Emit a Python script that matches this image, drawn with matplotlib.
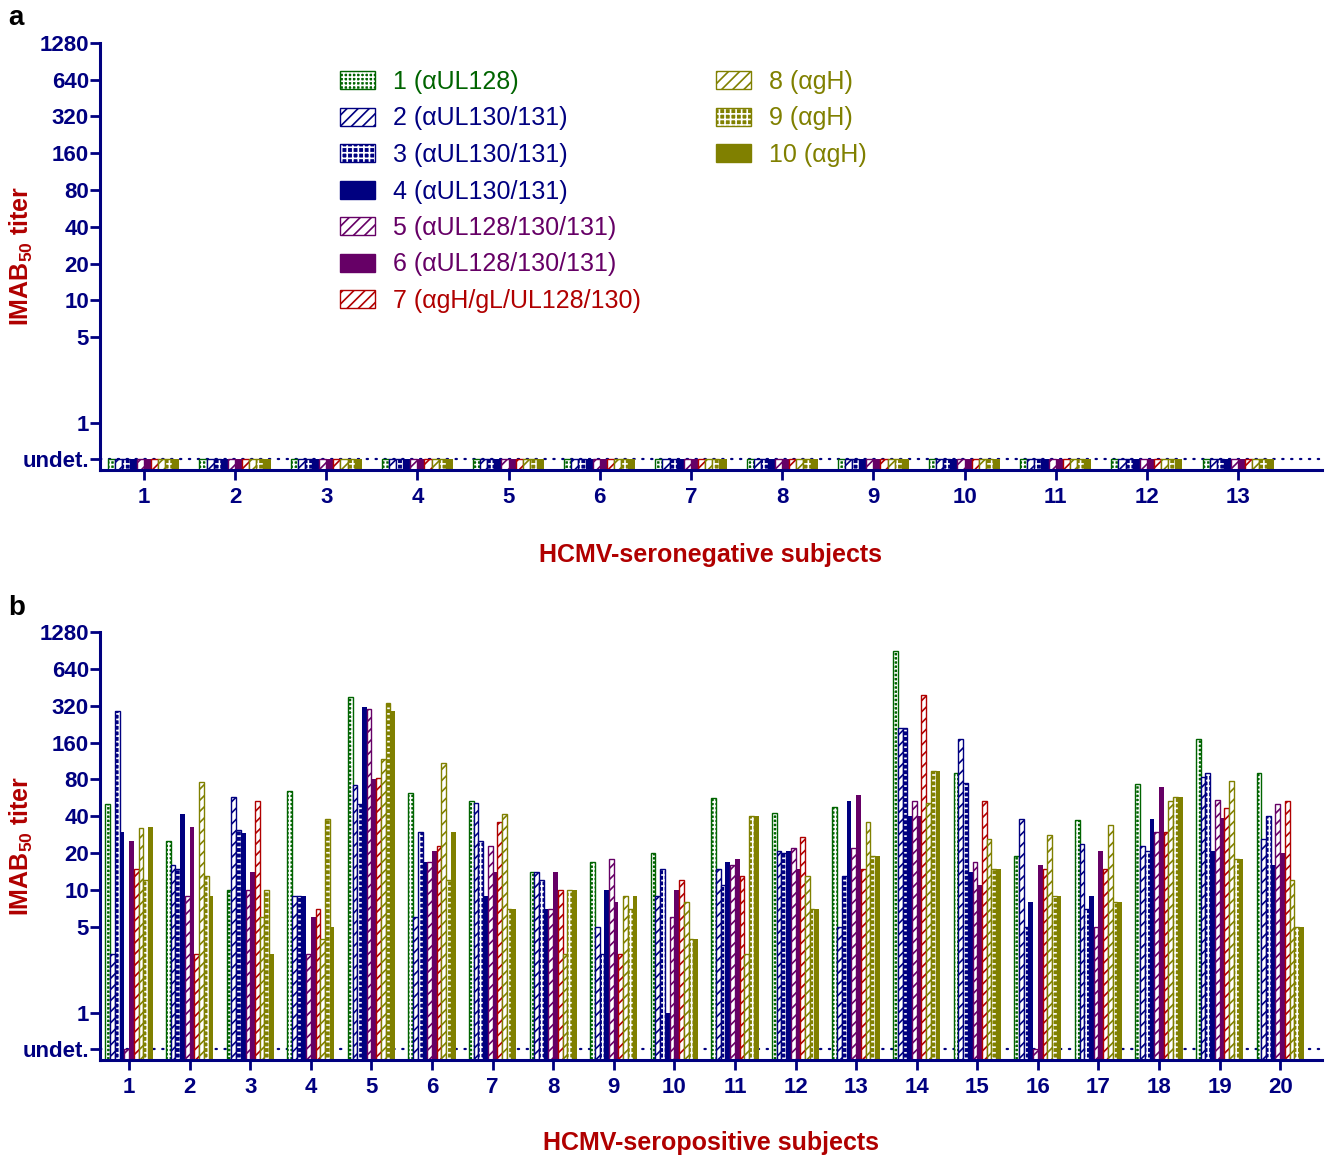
import numpy as np
import matplotlib.pyplot as plt
from matplotlib.patches import Patch

plt.rcParams['font.family'] = ['Liberation Sans', 'DejaVu Sans']
plt.rcParams['mathtext.default'] = 'regular'
plt.rcParams['hatch.linewidth'] = 1.2

U = 0.5  # "undet." level

mab_labels = ['1 (αUL128)', '2 (αUL130/131)', '3 (αUL130/131)', '4 (αUL130/131)',
              '5 (αUL128/130/131)', '6 (αUL128/130/131)', '7 (αgH/gL/UL128/130)',
              '8 (αgH)', '9 (αgH)', '10 (αgH)']
colors = ['#006400', '#000080', '#000080', '#000080', '#660066', '#660066',
          '#B00000', '#808000', '#808000', '#808000']
fills = ['fine', 'hatch', 'check', 'solid', 'hatch', 'solid', 'hatch', 'hatch', 'check', 'solid']

ytick_vals = [U, 1, 5, 10, 20, 40, 80, 160, 320, 640, 1280]
ytick_labels = ['undet.', '1', '5', '10', '20', '40', '80', '160', '320', '640', '1280']

# seronegative subjects: nothing detected
neg_subjects = list(range(1, 14))
neg_titers = [[U] * 13 for _ in range(10)]

# seropositive subjects, one list per mAb (subjects 1..20)
pos_subjects = list(range(1, 21))
mab1 = [50, 25, 10, 64, 380, 62, 53, 14, 17, 20, 56, 43, 48, 900, 90, 19, 37, 74, 170, 90]
mab2 = [3, 16, 58, 9, 72, 6, 51, 14, 5, 9, 15, 21, 5, 210, 170, 38, 24, 23, 84, 26]
mab3 = [290, 15, 31, 9, 50, 30, 25, 12, 3, 15, 11, 20, 13, 210, 75, 5, 7, 21, 91, 40]
mab4 = [30, 42, 29, 9, 315, 17, 9, 7, 10, 1, 17, 21, 53, 40, 14, 8, 9, 38, 21, 16]
mab5 = [U, 9, 10, 3, 300, 17, 23, 7, 18, 6, 16, 22, 22, 53, 17, U, 5, 30, 54, 50]
mab6 = [25, 33, 14, 6, 80, 21, 14, 14, 8, 10, 18, 15, 60, 40, 11, 16, 21, 70, 39, 20]
mab7 = [15, 3, 53, 7, 82, 23, 36, 10, 3, 12, 13, 27, 15, 390, 53, 15, 15, 30, 47, 53]
mab8 = [32, 76, 6, 4, 118, 109, 42, 3, 9, 8, 3, 13, 36, 51, 26, 28, 34, 53, 78, 12]
mab9 = [12, 13, 10, 38, 338, 12, 7, 10, 7, 4, 40, 7, 19, 94, 15, 9, 8, 58, 18, 5]
mab10 = [33, 9, 3, 5, 292, 30, 7, 10, 9, 4, 40, 7, 19, 94, 15, 9, 8, 58, 18, 5]
pos_titers = [mab1, mab2, mab3, mab4, mab5, mab6, mab7, mab8, mab9, mab10]

navy = '#000080'
red = '#B00000'
base = 0.3
w = 0.078


def draw_panel(ax, subjects, titers, xlabel, xlim):
    x = np.array(subjects, dtype=float)
    ax.axhline(U, color=navy, lw=1.6, ls=(0, (0.6, 3.4)), dash_capstyle='round', zorder=1)
    for i in range(10):
        xi = x + (i - 4.5) * w
        h = np.array(titers[i], dtype=float) - base
        c = colors[i]
        if fills[i] == 'solid':
            ax.bar(xi, h, w, bottom=base, color=c, lw=0, zorder=2)
        elif fills[i] == 'hatch':
            ax.bar(xi, h, w, bottom=base, facecolor='white', edgecolor=c, hatch='///', lw=1, zorder=2)
        else:
            hp = '++++' if fills[i] == 'fine' else '+++'
            ax.bar(xi, h, w, bottom=base, facecolor=c, edgecolor='white', hatch=hp, lw=0, zorder=2)
            ax.bar(xi, h, w, bottom=base, fill=False, edgecolor=c, lw=1, zorder=2)
    ax.set_yscale('log', base=2)
    ax.set_ylim(0.41, 1280)
    ax.set_xlim(*xlim)
    ax.set_yticks(ytick_vals)
    ax.set_yticklabels(ytick_labels)
    ax.minorticks_off()
    ax.set_xticks(x)
    ax.set_xticklabels([str(s) for s in subjects])
    for s in ['top', 'right']:
        ax.spines[s].set_visible(False)
    for s in ['left', 'bottom']:
        ax.spines[s].set_color(navy)
        ax.spines[s].set_linewidth(2.2)
    ax.tick_params(axis='both', colors=navy, width=2, length=7, labelsize=16)
    ax.tick_params(axis='y', pad=1)
    ax.tick_params(axis='x', pad=5)
    for t in ax.get_xticklabels() + ax.get_yticklabels():
        t.set_fontweight('bold')
    ax.set_xlabel(xlabel, color=red, fontsize=18, fontweight='bold', va='center')
    ax.set_ylabel('IMAB$_{50}$ titer', color=red, fontsize=18, fontweight='bold', va='center')
    ax.yaxis.set_label_coords(-0.064, 0.5)


fig = plt.figure(figsize=(13.26, 11.57), dpi=100)
ax1 = fig.add_axes([100 / 1326, 1 - 470 / 1157, 1222 / 1326, 427.3 / 1157])
ax2 = fig.add_axes([100 / 1326, 1 - 1060 / 1157, 1222 / 1326, 428 / 1157])

draw_panel(ax1, neg_subjects, neg_titers, 'HCMV-seronegative subjects', (0.52, 13.92))
ax1.xaxis.set_label_coords(0.5, -0.199)
draw_panel(ax2, pos_subjects, pos_titers, 'HCMV-seropositive subjects', (0.52, 20.69))
ax2.xaxis.set_label_coords(0.5, -0.194)

handles = []
for i in range(10):
    c = colors[i]
    if fills[i] == 'solid':
        handles.append(Patch(facecolor=c, edgecolor=c))
    elif fills[i] == 'hatch':
        handles.append(Patch(facecolor='white', edgecolor=c, hatch='///'))
    else:
        hp = '++++' if fills[i] == 'fine' else '+++'
        handles.append((Patch(facecolor=c, edgecolor='white', hatch=hp, lw=0),
                        Patch(fill=False, edgecolor=c)))

leg_kw = dict(frameon=False, fontsize=18, handlelength=1.4, handleheight=0.72,
              handletextpad=0.72, labelspacing=0.5, borderpad=0, borderaxespad=0,
              loc='upper left', bbox_transform=fig.transFigure)
leg1 = ax1.legend(handles[:7], mab_labels[:7], labelcolor=colors[:7],
                  bbox_to_anchor=(340 / 1326, 1 - 70 / 1157), **leg_kw)
ax1.add_artist(leg1)
ax1.legend(handles[7:], mab_labels[7:], labelcolor=colors[7:],
           bbox_to_anchor=(716 / 1326, 1 - 70 / 1157), **leg_kw)

fig.text(8 / 1326, 1 - 18 / 1157, 'a', fontsize=20, fontweight='bold', va='center')
fig.text(8 / 1326, 1 - 608 / 1157, 'b', fontsize=20, fontweight='bold', va='center')

plt.savefig('out.png', dpi=100)
